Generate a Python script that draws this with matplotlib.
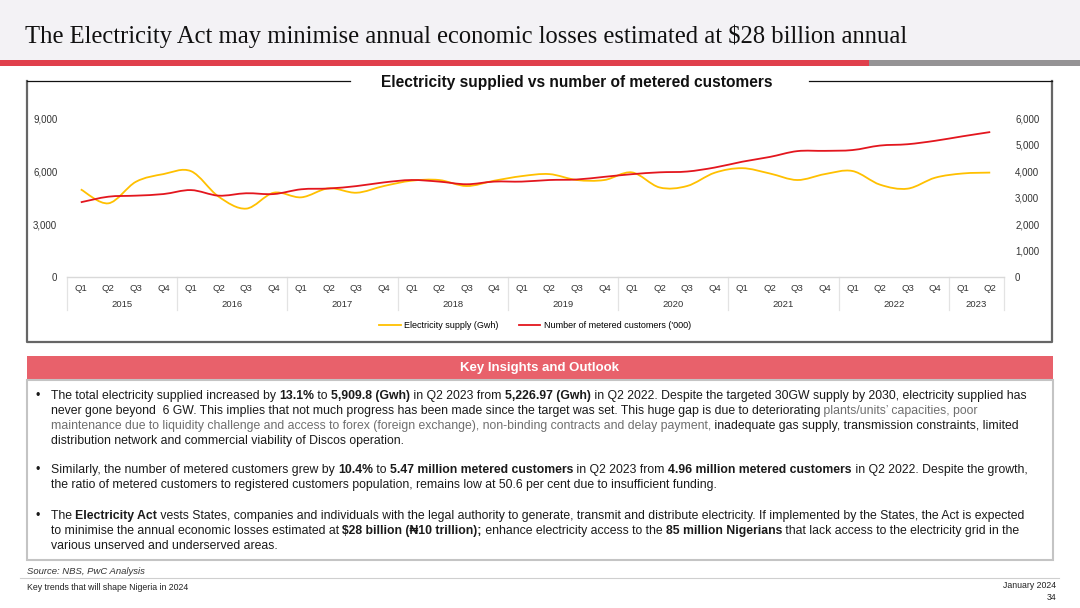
import matplotlib
matplotlib.use("Agg")
import matplotlib.pyplot as plt
import numpy as np
from matplotlib.lines import Line2D
from matplotlib.patches import Rectangle, PathPatch
from matplotlib.path import Path
from matplotlib.transforms import blended_transform_factory

W, H = 1080, 608

years = ["2015", "2016", "2017", "2018", "2019", "2020", "2021", "2022", "2023"]
quarters = ["Q1", "Q2", "Q3", "Q4"] * 8 + ["Q1", "Q2"]

# electricity supply (Gwh), left axis
supply = [4960, 4170, 5390, 5825, 5990, 4550, 3870, 4770, 4510, 5020, 4770, 5150,
          5450, 5490, 5150, 5450, 5710, 5825, 5490, 5490, 5920, 5070, 5150, 5900,
          6160, 5860, 5490, 5825, 6000, 5227, 5000, 5620, 5860, 5910]
# metered customers ('000), right axis
customers = [2820, 3030, 3070, 3130, 3280, 3070, 3160, 3130, 3310, 3340, 3430, 3570,
             3660, 3600, 3500, 3600, 3600, 3660, 3680, 3780, 3880, 3950, 3980, 4130,
             4350, 4530, 4750, 4760, 4790, 4960, 5010, 5140, 5310, 5470]

left_ticks = [0, 3000, 6000, 9000]
right_ticks = [0, 1000, 2000, 3000, 4000, 5000, 6000]

YELLOW = "#FFC000"
RED = "#E3161E"
SANS = ["Liberation Sans", "DejaVu Sans"]
BODY = 8.85


def fx(x):
    return x / W


def fy(y):
    return 1 - y / H


def smooth_path(xs, ys):
    # excel-style smoothed line: cubic bezier through every point
    p = np.column_stack([xs, ys]).astype(float)
    ext = np.vstack([p[0], p, p[-1]])
    verts = [p[0]]
    codes = [Path.MOVETO]
    for i in range(len(p) - 1):
        a, b, c, d = ext[i], ext[i + 1], ext[i + 2], ext[i + 3]
        verts += [b + (c - a) / 6, c - (d - b) / 6, c]
        codes += [Path.CURVE4] * 3
    return Path(verts, codes)


fig = plt.figure(figsize=(W / 100, H / 100), dpi=100)

# header
fig.patches.append(Rectangle((0, fy(60)), 1, 60 / H, transform=fig.transFigure,
                             facecolor="#f3f2f5", edgecolor="none", zorder=0))
fig.patches.append(Rectangle((0, fy(66)), fx(869), 6 / H, transform=fig.transFigure,
                             facecolor="#e0404c", edgecolor="none"))
fig.patches.append(Rectangle((fx(869), fy(66)), 1 - fx(869), 6 / H, transform=fig.transFigure,
                             facecolor="#959395", edgecolor="none"))
fig.text(fx(25), fy(36), "The Electricity Act may minimise annual economic losses estimated at $28 billion annual",
         family="Liberation Serif", fontsize=17.7, color="#111111", va="center", ha="left")

# chart frame
x0, x1, yt, yb = 27, 1052, 81, 342
fig.lines.append(Line2D([fx(x0), fx(x0), fx(x1), fx(x1)], [fy(yt), fy(yb), fy(yb), fy(yt)],
                        transform=fig.transFigure, color="#666666", lw=1.6))
fig.lines.append(Line2D([fx(x0), fx(350)], [fy(yt), fy(yt)], transform=fig.transFigure, color="#111111", lw=0.9))
fig.lines.append(Line2D([fx(809), fx(x1)], [fy(yt), fy(yt)], transform=fig.transFigure, color="#111111", lw=0.9))
fig.text(fx(577), fy(83), "Electricity supplied vs number of metered customers", family=SANS,
         fontsize=11.2, weight="bold", ha="center", va="center", color="#111111")

ax = fig.add_axes([fx(67), fy(277), (1004 - 67) / W, (277 - 118) / H])
ax2 = ax.twinx()
n = len(supply)
idx = np.arange(n)
ax.set_xlim(-0.5, n - 0.5)
ax.set_ylim(0, 9000)
ax2.set_ylim(0, 6000)
for a in (ax, ax2):
    for s in a.spines.values():
        s.set_visible(False)
    a.patch.set_visible(False)
ax.spines["bottom"].set_visible(True)
ax.spines["bottom"].set_color("#d9d9d9")
ax.spines["bottom"].set_linewidth(1.0)

ax.set_yticks(left_ticks)
ax.set_yticklabels([f"{v:,}" for v in left_ticks])
ax2.set_yticks(right_ticks)
ax2.set_yticklabels([f"{v:,}" for v in right_ticks])
ax.tick_params(axis="y", length=0, pad=7, labelsize=7, labelcolor="#333333")
ax2.tick_params(axis="y", length=0, pad=8, labelsize=7, labelcolor="#333333")
ax.set_xticks(idx)
ax.set_xticklabels(quarters)
ax.tick_params(axis="x", length=0, pad=5, labelsize=6.8, labelcolor="#333333")
for lab in ax.get_xticklabels() + ax.get_yticklabels() + ax2.get_yticklabels():
    lab.set_family(SANS)

# year labels and separators under the quarters
tr = blended_transform_factory(ax.transData, ax.transAxes)
bounds = [-0.5]
start = 0
for yr in years:
    cnt = 4 if yr != "2023" else 2
    ax.text(start + (cnt - 1) / 2, -0.17, yr, transform=tr, ha="center", va="center",
            fontsize=6.8, color="#333333", family=SANS)
    start += cnt
    bounds.append(start - 0.5)
for b in bounds:
    ax.plot([b, b], [0, -0.205], transform=tr, color="#e3e3e3", lw=0.9, clip_on=False)

ax.add_patch(PathPatch(smooth_path(idx, supply), fill=False, edgecolor=YELLOW, lw=1.3, zorder=3))
ax2.add_patch(PathPatch(smooth_path(idx, customers), fill=False, edgecolor=RED, lw=1.3, zorder=3))

handles = [Line2D([], [], color=YELLOW, lw=1.3), Line2D([], [], color=RED, lw=1.3)]
fig.legend(handles, ["Electricity supply (Gwh)", "Number of metered customers ('000)"],
           loc="center", bbox_to_anchor=(fx(535), fy(326)), ncol=2, frameon=False,
           prop={"family": SANS, "size": 6.5}, handlelength=2.4, columnspacing=2.2, handletextpad=0.4)

# insights box
fig.patches.append(Rectangle((fx(27), fy(380)), fx(1053) - fx(27), 24 / H, transform=fig.transFigure,
                             facecolor="#e8616b", edgecolor="none"))
fig.text(fx(540), fy(368), "Key Insights and Outlook", family=SANS, fontsize=9.5, weight="bold",
         color="white", ha="center", va="center")
fig.patches.append(Rectangle((fx(27), fy(560)), fx(1053) - fx(27), 180 / H, transform=fig.transFigure,
                             facecolor="white", edgecolor="#c4c4c4", lw=1.5))

D, B, G = "n", "b", "g"
bullets = [
    [
        [(D, "The total electricity supplied increased by "), (B, "13.1%"), (D, " to "), (B, "5,909.8 (Gwh)"),
         (D, " in Q2 2023 from "), (B, "5,226.97 (Gwh)"),
         (D, " in Q2 2022. Despite the targeted 30GW supply by 2030, electricity supplied has")],
        [(D, "never gone beyond  6 GW. This implies that not much progress has been made since the target was set. "
             "This huge gap is due to deteriorating"), (G, " plants/units\u2019 capacities, poor")],
        [(G, "maintenance due to liquidity challenge and access to forex (foreign exchange), non-binding contracts "
             "and delay payment,"), (D, " inadequate gas supply, transmission constraints, limited")],
        [(D, "distribution network and commercial viability of Discos operation.")],
    ],
    [
        [(D, "Similarly, the number of metered customers grew by "), (B, "10.4%"), (D, " to "),
         (B, "5.47 million metered customers"), (D, " in Q2 2023 from "), (B, "4.96 million metered customers"),
         (D, " in Q2 2022. Despite the growth,")],
        [(D, "the ratio of metered customers to registered customers population, remains low at 50.6 per cent "
             "due to insufficient funding.")],
    ],
    [
        [(D, "The "), (B, "Electricity Act"),
         (D, " vests States, companies and individuals with the legal authority to generate, transmit and distribute "
             "electricity. If implemented by the States, the Act is expected")],
        [(D, "to minimise the annual economic losses estimated at "), (B, "$28 billion (\u20a610 trillion);"),
         (D, " enhance electricity access to the "), (B, "85 million Nigerians"),
         (D, " that lack access to the electricity grid in the")],
        [(D, "various unserved and underserved areas.")],
    ],
]
line_y = [[396, 411, 426, 441], [470, 485], [516, 531, 546]]

renderer = fig.canvas.get_renderer()


def width_px(s, weight):
    t1 = fig.text(0, 0, "|" + s + "|", family=SANS, fontsize=BODY, weight=weight)
    t2 = fig.text(0, 0, "||", family=SANS, fontsize=BODY, weight=weight)
    w = t1.get_window_extent(renderer).width - t2.get_window_extent(renderer).width
    t1.remove()
    t2.remove()
    return w


for para, ys in zip(bullets, line_y):
    fig.text(fx(36), fy(ys[0]), "\u2022", family=SANS, fontsize=BODY, color="#1a1a1a", ha="left", va="center")
    for runs, y in zip(para, ys):
        x = 51
        for style, s in runs:
            weight = "bold" if style == B else "normal"
            color = "#6e6e6e" if style == G else "#1a1a1a"
            fig.text(fx(x), fy(y), s, family=SANS, fontsize=BODY, weight=weight, color=color,
                     ha="left", va="center")
            x += width_px(s, weight)

# footer
fig.text(fx(27), fy(572), "Source: NBS, PwC Analysis", family=SANS, fontsize=6.8, style="italic",
         color="#333333", va="center")
fig.lines.append(Line2D([fx(20), fx(1059)], [fy(578), fy(578)], transform=fig.transFigure,
                        color="#cfcfcf", lw=0.8))
fig.text(fx(27), fy(588), "Key trends that will shape Nigeria in 2024", family=SANS, fontsize=6.3,
         color="#222222", va="center")
fig.text(fx(1056), fy(586), "January 2024", family=SANS, fontsize=6.3, color="#222222", va="center", ha="right")
fig.text(fx(1056), fy(598), "34", family=SANS, fontsize=6.3, color="#222222", va="center", ha="right")

fig.savefig("out.png", dpi=100)
